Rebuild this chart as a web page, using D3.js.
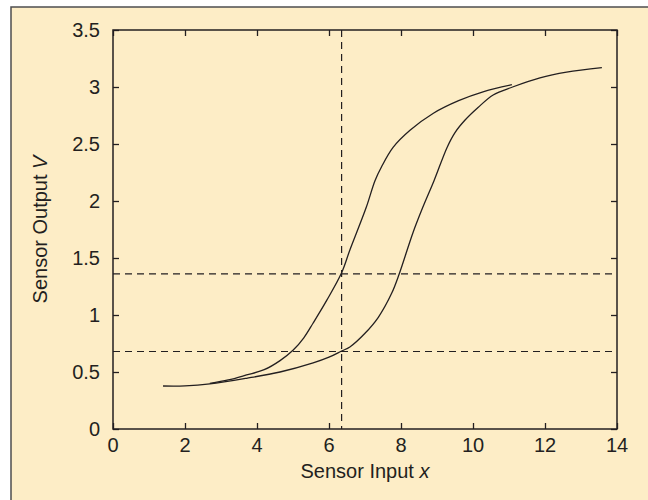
<!DOCTYPE html>
<html>
<head>
<meta charset="utf-8">
<script src="https://cdn.jsdelivr.net/npm/d3@7"></script>
<style>
  body { margin: 0; background: #fff; }
  svg text { font-family: "Liberation Sans", Arial, sans-serif; fill: #231f20; }
</style>
</head>
<body>
<div id="chart"></div>
<script>
// rising branch (left curve of the loop)
const upX = [2.69, 3.2, 3.71, 4.2, 4.64, 5.0, 5.3, 5.56, 5.94, 6.35, 6.58, 7.03, 7.28, 7.46, 7.78, 8.25, 8.9, 9.6, 10.3, 11.08];
const upV = [0.40, 0.43, 0.474, 0.52, 0.60, 0.69, 0.80, 0.93, 1.13, 1.37, 1.57, 1.94, 2.18, 2.30, 2.47, 2.62, 2.77, 2.88, 2.96, 3.02];
// falling branch (right curve of the loop)
const downX = [1.39, 2.0, 2.69, 3.71, 4.64, 5.56, 6.0, 6.35, 6.58, 7.0, 7.37, 7.74, 7.95, 8.33, 8.6, 8.92, 9.28, 9.5, 9.78, 10.14, 10.56, 11.1, 11.86, 12.6, 13.58];
const downV = [0.377, 0.378, 0.395, 0.445, 0.50, 0.58, 0.63, 0.684, 0.72, 0.84, 0.98, 1.19, 1.36, 1.72, 1.94, 2.18, 2.47, 2.60, 2.71, 2.82, 2.93, 3.0, 3.08, 3.13, 3.17];
// dashed reference lines
const refX = [6.35];
const refV = [1.36, 0.68];

const xTicks = [0, 2, 4, 6, 8, 10, 12, 14];
const yTicks = [0, 0.5, 1, 1.5, 2, 2.5, 3, 3.5];

const W = 648, H = 500;
const m = { left: 113, right: 617, top: 30, bottom: 429 };

const svg = d3.select("#chart").append("svg")
    .attr("width", W)
    .attr("height", H);

// panel background with border on top/left
svg.append("rect")
    .attr("x", 11).attr("y", 7)
    .attr("width", W).attr("height", H)
    .attr("fill", "#fdedc6");
svg.append("path")
    .attr("d", `M11,${H} L11,7 L${W},7`)
    .attr("fill", "none")
    .attr("stroke", "#4d4d4f")
    .attr("stroke-width", 1.5);

const x = d3.scaleLinear().domain([0, 14]).range([m.left, m.right]);
const y = d3.scaleLinear().domain([0, 3.5]).range([m.bottom, m.top]);

// inward ticks on all four sides, labels drawn separately
function ticksOnly(g) {
    g.select(".domain").remove();
    g.selectAll(".tick text").remove();
    g.selectAll(".tick line").attr("stroke", "#231f20").attr("stroke-width", 1.3);
}
svg.append("g").attr("transform", `translate(0,${m.bottom})`)
    .call(d3.axisBottom(x).tickValues(xTicks).tickSize(-6)).call(ticksOnly);
svg.append("g").attr("transform", `translate(0,${m.top})`)
    .call(d3.axisTop(x).tickValues(xTicks).tickSize(-6)).call(ticksOnly);
svg.append("g").attr("transform", `translate(${m.left},0)`)
    .call(d3.axisLeft(y).tickValues(yTicks).tickSize(-6)).call(ticksOnly);
svg.append("g").attr("transform", `translate(${m.right},0)`)
    .call(d3.axisRight(y).tickValues(yTicks).tickSize(-6)).call(ticksOnly);

svg.append("g").selectAll("text")
    .data(xTicks)
    .enter()
    .append("text")
    .attr("x", d => x(d))
    .attr("y", m.bottom + 23)
    .attr("text-anchor", "middle")
    .attr("font-size", 20)
    .text(d => d);

svg.append("g").selectAll("text")
    .data(yTicks)
    .enter()
    .append("text")
    .attr("x", m.left - 13)
    .attr("y", d => y(d) + 7)
    .attr("text-anchor", "end")
    .attr("font-size", 20)
    .text(d => d);

// dashed lines
svg.selectAll(".hdash").data(refV).enter().append("line")
    .attr("x1", m.left).attr("x2", m.right)
    .attr("y1", d => y(d)).attr("y2", d => y(d))
    .attr("stroke", "#231f20")
    .attr("stroke-width", 1.2)
    .attr("stroke-dasharray", "7,5");
svg.selectAll(".vdash").data(refX).enter().append("line")
    .attr("x1", d => x(d)).attr("x2", d => x(d))
    .attr("y1", m.top).attr("y2", m.bottom)
    .attr("stroke", "#231f20")
    .attr("stroke-width", 1.2)
    .attr("stroke-dasharray", "7,5");

// curves
const line = d3.line()
    .x(d => x(d[0]))
    .y(d => y(d[1]))
    .curve(d3.curveCatmullRom.alpha(0.5));

[[upX, upV], [downX, downV]].forEach(([xs, vs]) => {
    svg.append("path")
        .datum(xs.map((v, i) => [v, vs[i]]))
        .attr("d", line)
        .attr("fill", "none")
        .attr("stroke", "#231f20")
        .attr("stroke-width", 1.3);
});

// frame
svg.append("rect")
    .attr("x", m.left).attr("y", m.top)
    .attr("width", m.right - m.left).attr("height", m.bottom - m.top)
    .attr("fill", "none")
    .attr("stroke", "#231f20")
    .attr("stroke-width", 1.5);

// axis titles
const xt = svg.append("text")
    .attr("x", (m.left + m.right) / 2)
    .attr("y", 478)
    .attr("text-anchor", "middle")
    .attr("font-size", 20);
xt.append("tspan").text("Sensor Input ");
xt.append("tspan").attr("font-style", "italic").text("x");

const yt = svg.append("text")
    .attr("transform", `translate(47,${(m.top + m.bottom) / 2}) rotate(-90)`)
    .attr("text-anchor", "middle")
    .attr("font-size", 20);
yt.append("tspan").text("Sensor Output ");
yt.append("tspan").attr("font-style", "italic").text("V");
</script>
</body>
</html>
